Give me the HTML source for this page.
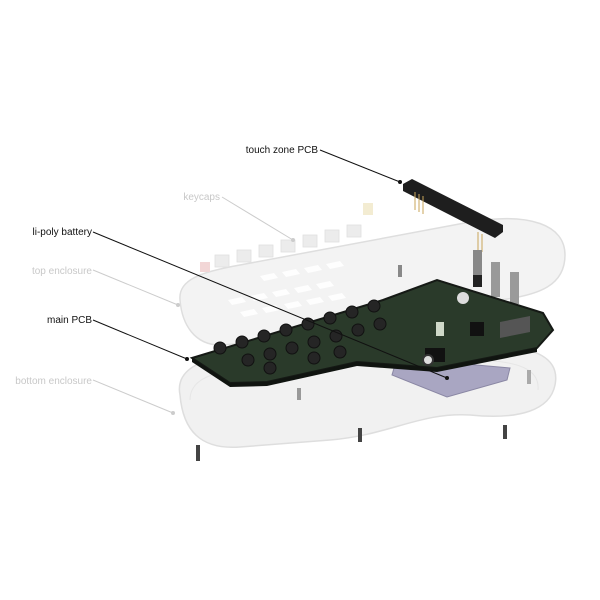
<!DOCTYPE html>
<html><head><style>
body{margin:0;background:#fff;width:600px;height:600px;overflow:hidden}
svg{display:block}
text{font-family:"Liberation Sans",sans-serif;font-size:10px}
</style></head><body>
<svg width="600" height="600" viewBox="0 0 600 600">
<path d="M180,395 C175,370 200,355 260,352 L480,345 C540,345 560,360 555,385 C550,410 520,420 470,415 C420,412 390,435 330,440 L240,447 C200,450 183,430 180,395Z" fill="#f1f1f1" stroke="#dedede" stroke-width="1.5"/>
<path d="M190,400 C190,380 210,370 260,368 L470,360 C520,360 540,370 538,390" fill="none" stroke="#e6e6e6" stroke-width="1"/>
<path d="M180,300 C178,280 200,272 240,265 L470,222 C530,212 565,225 565,255 C565,285 540,295 500,300 L420,315 C380,325 350,335 300,340 L220,345 C195,345 182,325 180,300Z" fill="#f3f3f3" stroke="#dedede" stroke-width="1.5"/>
<g fill="#ffffff" opacity="0.95">
<path d="M228,300 l14,-3 l4,5 l-14,3z"/><path d="M250,296 l14,-3 l4,5 l-14,3z"/><path d="M272,292 l14,-3 l4,5 l-14,3z"/><path d="M294,288 l14,-3 l4,5 l-14,3z"/><path d="M316,284 l14,-3 l4,5 l-14,3z"/>
<path d="M240,312 l14,-3 l4,5 l-14,3z"/><path d="M262,308 l14,-3 l4,5 l-14,3z"/><path d="M284,304 l14,-3 l4,5 l-14,3z"/><path d="M306,300 l14,-3 l4,5 l-14,3z"/><path d="M328,296 l14,-3 l4,5 l-14,3z"/>
<path d="M260,276 l14,-3 l4,5 l-14,3z"/><path d="M282,272 l14,-3 l4,5 l-14,3z"/><path d="M304,268 l14,-3 l4,5 l-14,3z"/><path d="M326,264 l14,-3 l4,5 l-14,3z"/>
</g>
<g fill="#ececec" stroke="#e0e0e0" stroke-width="0.8">
<rect x="215" y="255" width="14" height="12"/><rect x="237" y="250" width="14" height="12"/><rect x="259" y="245" width="14" height="12"/><rect x="281" y="240" width="14" height="12"/><rect x="303" y="235" width="14" height="12"/><rect x="325" y="230" width="14" height="12"/><rect x="347" y="225" width="14" height="12"/>
</g>
<rect x="200" y="262" width="10" height="10" fill="#f2d6d6"/>
<rect x="363" y="203" width="10" height="12" fill="#f3ecd2"/>
<path d="M403,184 L412,179 L503,225 L503,232 L495,238 L403,191Z" fill="#1e1e1e"/>
<g stroke="#c9a55a" stroke-width="1"><line x1="415" y1="192" x2="415" y2="210"/><line x1="419" y1="194" x2="419" y2="212"/><line x1="423" y1="196" x2="423" y2="214"/><line x1="478" y1="232" x2="478" y2="250"/><line x1="482" y1="234" x2="482" y2="252"/></g>
<rect x="473" y="250" width="9" height="30" fill="#888"/><rect x="473" y="275" width="9" height="12" fill="#222"/>
<rect x="491" y="262" width="9" height="35" fill="#999"/><rect x="510" y="272" width="9" height="32" fill="#9a9a9a"/>
<path d="M397,358 L510,368 L507,380 L447,397 L392,375Z" fill="#a9a6c2" stroke="#8a87a4"/>
<path d="M192,358 L383,300 L437,280 L543,313 L553,330 L537,348 L437,368 L357,362 L267,382 L230,383Z" fill="#2a3a2a" stroke="#151915" stroke-width="2"/>
<path d="M192,358 L230,383 L267,382 L357,362 L437,368 L537,348 L537,352 L437,372 L357,366 L267,386 L230,387 L192,362Z" fill="#101410"/>
<g fill="#252525" stroke="#111">
<circle cx="220" cy="348" r="6"/><circle cx="242" cy="342" r="6"/><circle cx="264" cy="336" r="6"/><circle cx="286" cy="330" r="6"/><circle cx="308" cy="324" r="6"/><circle cx="330" cy="318" r="6"/><circle cx="352" cy="312" r="6"/><circle cx="374" cy="306" r="6"/>
<circle cx="248" cy="360" r="6"/><circle cx="270" cy="354" r="6"/><circle cx="292" cy="348" r="6"/><circle cx="314" cy="342" r="6"/><circle cx="336" cy="336" r="6"/><circle cx="358" cy="330" r="6"/><circle cx="380" cy="324" r="6"/>
<circle cx="270" cy="368" r="6"/><circle cx="314" cy="358" r="6"/><circle cx="340" cy="352" r="6"/>
</g>
<rect x="470" y="322" width="14" height="14" fill="#111"/>
<path d="M500,322 L530,316 L530,332 L500,338Z" fill="#555"/>
<rect x="425" y="348" width="20" height="14" fill="#111"/>
<circle cx="428" cy="360" r="5" fill="#ddd" stroke="#333" stroke-width="2"/>
<rect x="436" y="322" width="8" height="14" fill="#cfd8c8"/>
<circle cx="463" cy="298" r="6" fill="#ddd"/>
<g fill="#444"><rect x="196" y="445" width="4" height="16"/><rect x="358" y="428" width="4" height="14"/><rect x="503" y="425" width="4" height="14"/><rect x="297" y="388" width="4" height="12" fill="#999"/><rect x="527" y="370" width="4" height="14" fill="#aaa"/><rect x="398" y="265" width="4" height="12" fill="#888"/></g>
<g stroke-width="1" fill="none">
<path d="M320,150 L400,182" stroke="#111"/>
<path d="M222,197 L293,240" stroke="#ccc"/>
<path d="M93,232 L447,378" stroke="#111"/>
<path d="M93,270 L178,305" stroke="#ccc"/>
<path d="M93,320 L187,359" stroke="#111"/>
<path d="M93,380 L173,413" stroke="#ccc"/>
</g>
<circle cx="400" cy="182" r="2" fill="#111"/><circle cx="447" cy="378" r="2" fill="#111"/><circle cx="187" cy="359" r="2" fill="#111"/>
<circle cx="293" cy="240" r="2" fill="#ccc"/><circle cx="178" cy="305" r="2" fill="#ccc"/><circle cx="173" cy="413" r="2" fill="#ccc"/>
<text x="318" y="153" text-anchor="end" fill="#111">touch zone PCB</text>
<text x="220" y="200" text-anchor="end" fill="#c8c8c8">keycaps</text>
<text x="92" y="235" text-anchor="end" fill="#111">li-poly battery</text>
<text x="92" y="274" text-anchor="end" fill="#c8c8c8">top enclosure</text>
<text x="92" y="323" text-anchor="end" fill="#111">main PCB</text>
<text x="92" y="384" text-anchor="end" fill="#c8c8c8">bottom enclosure</text>
</svg>
</body></html>
